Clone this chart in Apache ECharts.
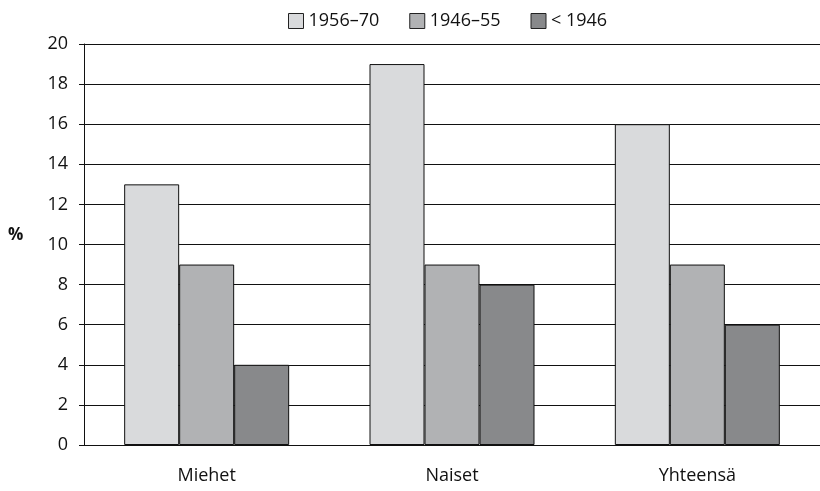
<!DOCTYPE html>
<html>
<head>
<meta charset="utf-8">
<script src="https://cdn.jsdelivr.net/npm/echarts@6/dist/echarts.min.js"></script>
<style>
  html, body { margin: 0; padding: 0; background: #fff; }
  #chart { width: 820px; height: 491px; }
</style>
</head>
<body>
<div id="chart"></div>
<script>
// data
const categories = ['Miehet', 'Naiset', 'Yhteensä'];
const seriesNames = ['1956–70', '1946–55', '< 1946'];
const values1956 = [13, 19, 16];
const values1946 = [9, 9, 9];
const valuesPre1946 = [4, 8, 6];
const colors = ['#d9dadc', '#b1b2b4', '#88898b'];

const font = '"Open Sans", "DejaVu Sans", sans-serif';

function barSeries(name, data, color) {
  return {
    name: name,
    type: 'bar',
    data: data,
    barWidth: 55,
    barGap: '0%',
    itemStyle: { color: color, borderColor: '#111', borderWidth: 1 }
  };
}

const chart = echarts.init(document.getElementById('chart'));
chart.setOption({
  animation: false,
  textStyle: { fontFamily: font },
  legend: {
    top: 7,
    left: 283,
    icon: 'rect',
    itemWidth: 15,
    itemHeight: 15,
    itemGap: 30,
    textStyle: { fontSize: 18, color: '#111', fontFamily: font },
    itemStyle: { borderColor: '#222', borderWidth: 1 },
    data: seriesNames
  },
  // the "%" unit label left of the y axis
  graphic: [{
    type: 'text',
    left: 8,
    top: 227,
    style: { text: '%', fontSize: 17, fontWeight: 'bold', fill: '#111', fontFamily: font }
  }],
  grid: { left: 84, right: -3, top: 44, bottom: 46 },
  xAxis: {
    type: 'category',
    data: categories,
    axisLine: { lineStyle: { color: '#111', width: 1 } },
    axisTick: { show: false },
    axisLabel: { color: '#111', fontSize: 18, margin: 22, fontFamily: font }
  },
  yAxis: {
    type: 'value',
    min: 0,
    max: 20,
    interval: 2,
    axisLine: { show: true, lineStyle: { color: '#111', width: 1 } },
    axisTick: { show: true, length: 5, lineStyle: { color: '#111' } },
    axisLabel: { color: '#111', fontSize: 18, margin: 16, fontFamily: font },
    splitLine: { lineStyle: { color: '#111', width: 1 } }
  },
  series: [
    barSeries(seriesNames[0], values1956, colors[0]),
    barSeries(seriesNames[1], values1946, colors[1]),
    barSeries(seriesNames[2], valuesPre1946, colors[2])
  ]
});
</script>
</body>
</html>
